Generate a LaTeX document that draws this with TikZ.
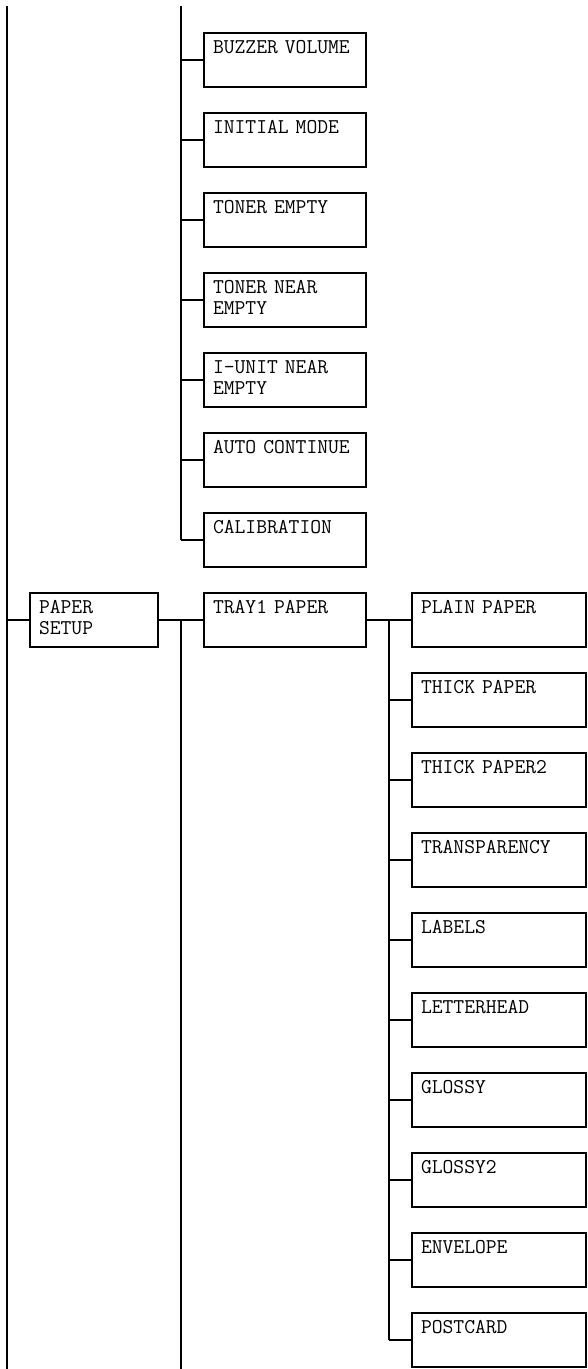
\documentclass[tikz,border=0pt]{standalone}
\usetikzlibrary{backgrounds}

\begin{document}
\begin{tikzpicture}[
    x=1pt, y=-1pt, line width=1.3pt,
    item/.style={draw, align=left, minimum height=54pt,
      inner xsep=9pt, inner ysep=8pt, text height=12pt, text depth=26pt,
      font=\ttfamily\fontsize{21}{21}\selectfont},
    background rectangle/.style={fill=white}, show background rectangle]

    \useasboundingbox (0,0) rectangle (588,1369);

    % long line on the far left
    \coordinate (ltop) at (7,6);
    \coordinate (lbot) at (7,1369);
    \draw (ltop) -- (lbot);

    % upper column of entries hanging from the second line
    \coordinate (mtop) at (181,6);
    \foreach \txt [count=\i from 0] in {BUZZER VOLUME, INITIAL MODE,
        TONER EMPTY, TONER NEAR\\EMPTY, I-UNIT NEAR\\EMPTY,
        AUTO CONTINUE, CALIBRATION}
    {
      \node[item, text width=144pt] at (285,{60+80*\i}) (m\i) {\txt};
      \draw (m\i.west) -- (m\i.west -| mtop);
    }
    \draw (mtop) -- (m6.west -| mtop);

    % paper setup branch
    \node[item, text width=110pt] at (94,620) (setup) {PAPER\\SETUP};
    \draw (setup.west) -- (setup.west -| ltop);
    \node[item, text width=144pt] at (285,620) (tray) {TRAY1 PAPER};
    \draw (setup) -- (tray);
    \coordinate (sbot) at (181,1369);
    \draw (setup.east -| sbot) -- (sbot);

    % paper types under tray 1
    \coordinate (tjoin) at (389,620);
    \foreach \txt [count=\i from 0] in {PLAIN PAPER, THICK PAPER,
        THICK PAPER2, TRANSPARENCY, LABELS, LETTERHEAD, GLOSSY,
        GLOSSY2, ENVELOPE, POSTCARD}
    {
      \node[item, text width=156pt] at (499,{620+80*\i}) (p\i) {\txt};
      \draw (p\i.west) -- (p\i.west -| tjoin);
    }
    \draw (tray) -- (p0);
    \draw (tjoin) -- (p9.west -| tjoin);

\end{tikzpicture}
\end{document}
